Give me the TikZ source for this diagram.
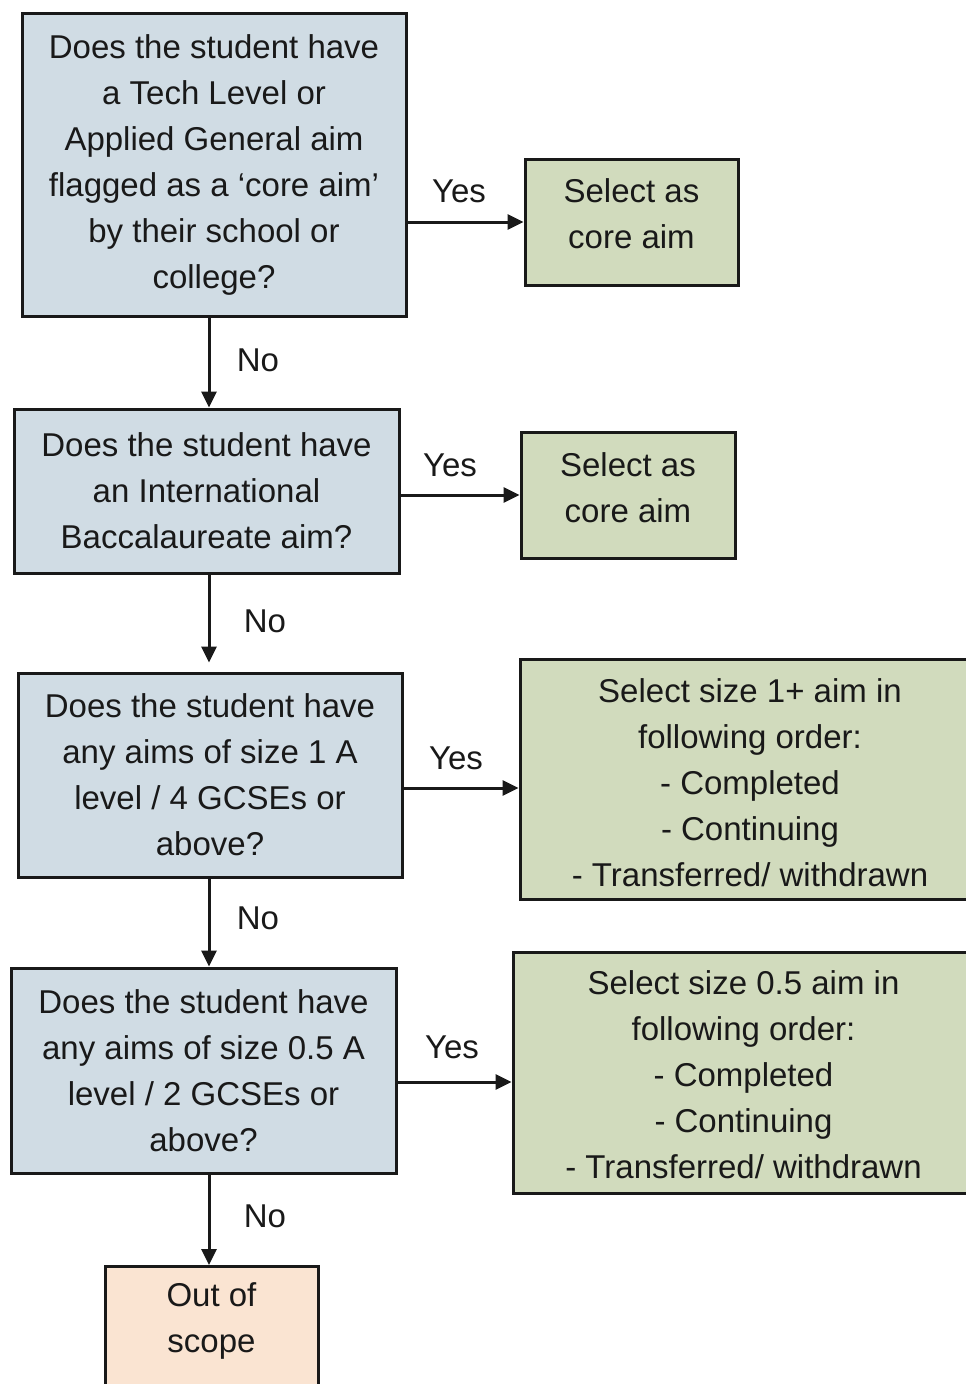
\documentclass[tikz,border=0pt]{standalone}
\usepackage{fontspec}
\setmainfont{Liberation Sans}
\usetikzlibrary{arrows.meta}
\definecolor{qfill}{RGB}{208,220,228}
\definecolor{gfill}{RGB}{209,219,189}
\definecolor{pfill}{RGB}{250,228,210}
\definecolor{ink}{RGB}{25,25,25}
\tikzset{
  qbox/.style={draw=ink, line width=3pt, fill=qfill, align=center, inner sep=0pt, text=ink},
  gbox/.style={draw=ink, line width=3pt, fill=gfill, align=center, inner sep=0pt, text=ink},
  pbox/.style={draw=ink, line width=3pt, fill=pfill, align=center, inner sep=0pt, text=ink},
  arr/.style={draw=ink, line width=3pt, -{Triangle[length=16pt,width=15pt]}},
  lbl/.style={text=ink, inner sep=0pt},
}
\begin{document}
\begin{tikzpicture}[x=1pt,y=-1pt, every node/.style={font=\fontsize{33}{46}\selectfont}]
\useasboundingbox (0,0) rectangle (966,1384);
\clip (0,0) rectangle (966,1384);
\fill[white] (0,0) rectangle (966,1384);
% question boxes
\node[qbox, minimum width=384pt, minimum height=303pt] (b1) at (214,164.5)
  {Does the student have\\a Tech Level or\\Applied General aim\\flagged as a `core aim'\\by their school or\\college?};
\node[qbox, minimum width=385pt, minimum height=164pt] (b2) at (206.5,491)
  {Does the student have\\an International\\Baccalaureate aim?};
\node[qbox, minimum width=384pt, minimum height=204pt] (b3) at (210,775)
  {Does the student have\\any aims of size 1 A\\level / 4 GCSEs or\\above?};
\node[qbox, minimum width=385pt, minimum height=205pt] (b4) at (203.5,1070.5)
  {Does the student have\\any aims of size 0.5 A\\level / 2 GCSEs or\\above?};
% outcome boxes
\node[gbox, minimum width=213pt, minimum height=126pt] (y1) at (631.5,222) {};
\node[lbl, align=center] (y1t) at (631.5,214) {Select as\\core aim};
\node[gbox, minimum width=214pt, minimum height=126pt] (y2) at (628,495) {};
\node[lbl, align=center] (y2t) at (628,488) {Select as\\core aim};
\node[gbox, minimum width=460pt, minimum height=240pt] (g3) at (750,779) {};
\node[lbl, align=center] (g3t) at (750,783) {Select size 1+ aim in\\following order:\\- Completed\\- Continuing\\- Transferred/ withdrawn};
\node[gbox, minimum width=461pt, minimum height=241pt] (g4) at (743.5,1072.5) {};
\node[lbl, align=center] (g4t) at (743.5,1075) {Select size 0.5 aim in\\following order:\\- Completed\\- Continuing\\- Transferred/ withdrawn};
\node[pbox, minimum width=213pt, minimum height=160pt, anchor=north] (o) at (211.5,1265) {};
\node[lbl, align=center] (ot) at (211.5,1321) {Out of\\scope};
% axis for vertical connectors
\coordinate (ax) at (209,0);
% connectors
\draw[arr] (b1.east |- y1.west) -- (y1.west);
\draw[arr] (b2.east |- y2.west) -- (y2.west);
\draw[arr] ([yshift=-13pt]b3.east) -- ([yshift=-13pt]b3.east -| g3.west);
\draw[arr] ([yshift=-11.5pt]b4.east) -- ([yshift=-11.5pt]b4.east -| g4.west);
\draw[arr] (b1.south -| ax) -- (b2.north -| ax);
\draw[arr] (b2.south -| ax) -- ([yshift=9pt]b3.north -| ax);
\draw[arr] (b3.south -| ax) -- (b4.north -| ax);
\draw[arr] (b4.south -| ax) -- (o.north -| ax);
% labels
\node[lbl] (l1) at (459,191) {Yes};
\node[lbl] (l2) at (450,465) {Yes};
\node[lbl] (l3) at (456,758) {Yes};
\node[lbl] (l4) at (452,1047) {Yes};
\node[lbl] (n1) at (258,360) {No};
\node[lbl] (n2) at (265,621) {No};
\node[lbl] (n3) at (258,918) {No};
\node[lbl] (n4) at (265,1216) {No};
\end{tikzpicture}
\end{document}
